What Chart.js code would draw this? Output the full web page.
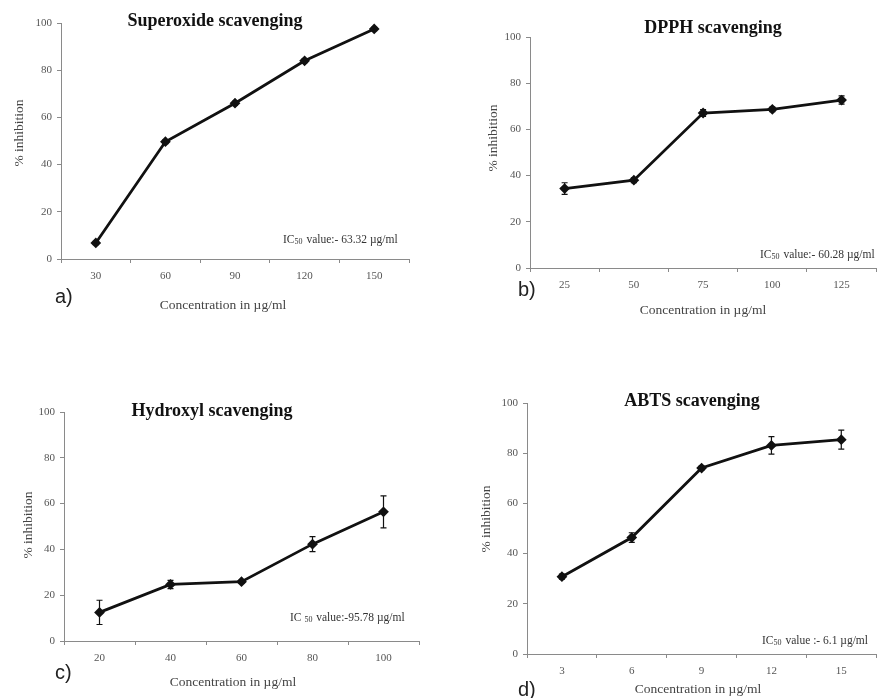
<!DOCTYPE html>
<html lang="en">
<head>
<meta charset="UTF-8">
<title>Scavenging activity</title>
<script src="https://cdn.jsdelivr.net/npm/chart.js"></script>
<style>
  html, body { margin: 0; padding: 0; background: #fff; overflow: hidden; }
  .panel { position: absolute; left: 0; top: 0; }
</style>
</head>
<body>
<canvas class="panel" id="chartA" width="883" height="698"></canvas>
<canvas class="panel" id="chartB" width="883" height="698"></canvas>
<canvas class="panel" id="chartC" width="883" height="698"></canvas>
<canvas class="panel" id="chartD" width="883" height="698"></canvas>
<script>
// data
const superoxideConc = ['30', '60', '90', '120', '150'];
const superoxideVals = [6.8, 49.7, 66.0, 84.0, 97.5];
const superoxideErr = [0.7, 0.8, 0.8, 0.8, 0.7];

const dpphConc = ['25', '50', '75', '100', '125'];
const dpphVals = [34.4, 38.0, 67.1, 68.7, 72.7];
const dpphErr = [2.5, 1.0, 1.5, 1.0, 1.8];

const hydroxylConc = ['20', '40', '60', '80', '100'];
const hydroxylVals = [12.5, 24.7, 25.9, 42.3, 56.4];
const hydroxylErr = [5.3, 1.8, 0.6, 3.3, 7.0];

const abtsConc = ['3', '6', '9', '12', '15'];
const abtsVals = [30.8, 46.4, 74.1, 83.1, 85.4];
const abtsErr = [1.0, 1.9, 0.8, 3.5, 3.8];

const yTicks = [0, 20, 40, 60, 80, 100];

const serif = '"Liberation Serif", "Times New Roman", serif';
const sans = '"Liberation Sans", Arial, sans-serif';
const W = 883, H = 698;
const Y_W = 40, X_H = 30;

function makePanel(id, labels, values, errors, area, txt) {
    // vertical error bars, positioned with the y scale
    const errorBars = {
        id: 'errorBars',
        afterDatasetsDraw(chart) {
            const ys = chart.scales.y;
            const ctx = chart.ctx;
            ctx.save();
            ctx.strokeStyle = '#111';
            ctx.lineWidth = 1.2;
            chart.getDatasetMeta(0).data.forEach((pt, i) => {
                const top = ys.getPixelForValue(values[i] + errors[i]);
                const bot = ys.getPixelForValue(values[i] - errors[i]);
                ctx.beginPath();
                ctx.moveTo(pt.x, top); ctx.lineTo(pt.x, bot);
                ctx.moveTo(pt.x - 3, top); ctx.lineTo(pt.x + 3, top);
                ctx.moveTo(pt.x - 3, bot); ctx.lineTo(pt.x + 3, bot);
                ctx.stroke();
            });
            ctx.restore();
        }
    };

    // titles, axis names, panel letter and IC50 note
    const annotations = {
        id: 'annotations',
        afterDraw(chart) {
            const ctx = chart.ctx;
            ctx.save();
            ctx.textBaseline = 'middle';

            ctx.fillStyle = '#111';
            ctx.textAlign = 'center';
            ctx.font = 'bold 18px ' + serif;
            ctx.fillText(txt.title, txt.titleX, txt.titleY);

            ctx.fillStyle = '#444';
            ctx.font = '13.5px ' + serif;
            ctx.fillText('Concentration in \u00b5g/ml', txt.xLabelX, txt.xLabelY);

            ctx.save();
            ctx.translate(txt.yLabelX, txt.yLabelY);
            ctx.rotate(-Math.PI / 2);
            ctx.fillText('% inhibition', 0, 0);
            ctx.restore();

            ctx.fillStyle = '#222';
            ctx.textAlign = 'left';
            ctx.font = '20px ' + sans;
            ctx.fillText(txt.letter, txt.letterX, txt.letterY);

            // IC50 with subscript
            ctx.fillStyle = '#333';
            let x = txt.icX;
            ctx.font = '11.5px ' + serif;
            ctx.fillText(txt.icPre, x, txt.icY);
            x += ctx.measureText(txt.icPre).width;
            ctx.font = '8px ' + serif;
            ctx.fillText('50', x, txt.icY + 2);
            x += ctx.measureText('50').width + 1;
            ctx.font = '11.5px ' + serif;
            ctx.fillText(txt.icPost, x, txt.icY);
            ctx.restore();
        }
    };

    const axisColor = '#8a8a8a';
    const tickFont = { family: serif, size: 11 };

    return new Chart(document.getElementById(id), {
        type: 'line',
        data: {
            labels: labels,
            datasets: [{
                data: values,
                borderColor: '#111',
                backgroundColor: '#111',
                borderWidth: 2.8,
                pointStyle: 'rectRot',
                pointRadius: 3.4,
                tension: 0
            }]
        },
        options: {
            responsive: false,
            animation: false,
            layout: {
                padding: {
                    left: area.left - Y_W,
                    top: area.top,
                    right: W - area.right,
                    bottom: H - area.bottom - X_H
                }
            },
            plugins: {
                legend: { display: false },
                tooltip: { enabled: false }
            },
            scales: {
                x: {
                    type: 'category',
                    offset: true,
                    grid: { drawOnChartArea: false, drawTicks: true, tickLength: 4, offset: true, color: axisColor },
                    border: { color: axisColor, width: 1 },
                    ticks: { color: '#555', font: tickFont, padding: 7, maxRotation: 0 },
                    afterFit(s) { s.height = X_H; }
                },
                y: {
                    min: 0,
                    max: 100,
                    grid: { drawOnChartArea: false, drawTicks: true, tickLength: 4, color: axisColor },
                    border: { color: axisColor, width: 1 },
                    ticks: { color: '#555', font: tickFont, padding: 5 },
                    afterBuildTicks(s) { s.ticks = yTicks.map(v => ({ value: v })); },
                    afterFit(s) { s.width = Y_W; }
                }
            }
        },
        plugins: [errorBars, annotations]
    });
}

makePanel('chartA', superoxideConc, superoxideVals, superoxideErr,
    { left: 61, top: 23, right: 409, bottom: 259 },
    { title: 'Superoxide scavenging', titleX: 215, titleY: 21,
      xLabelX: 223, xLabelY: 305, yLabelX: 19, yLabelY: 133,
      letter: 'a)', letterX: 55, letterY: 297,
      icPre: 'IC', icPost: ' value:- 63.32 \u00b5g/ml', icX: 283, icY: 240 });

makePanel('chartB', dpphConc, dpphVals, dpphErr,
    { left: 530, top: 37, right: 883, bottom: 268 },
    { title: 'DPPH scavenging', titleX: 713, titleY: 28,
      xLabelX: 703, xLabelY: 310, yLabelX: 493, yLabelY: 138,
      letter: 'b)', letterX: 518, letterY: 290,
      icPre: 'IC', icPost: ' value:- 60.28 \u00b5g/ml', icX: 760, icY: 255 });

makePanel('chartC', hydroxylConc, hydroxylVals, hydroxylErr,
    { left: 64, top: 412, right: 419, bottom: 641 },
    { title: 'Hydroxyl scavenging', titleX: 212, titleY: 411,
      xLabelX: 233, xLabelY: 682, yLabelX: 28, yLabelY: 525,
      letter: 'c)', letterX: 55, letterY: 673,
      icPre: 'IC ', icPost: ' value:-95.78 \u00b5g/ml', icX: 290, icY: 618 });

makePanel('chartD', abtsConc, abtsVals, abtsErr,
    { left: 527, top: 403, right: 882, bottom: 654 },
    { title: 'ABTS scavenging', titleX: 692, titleY: 401,
      xLabelX: 698, xLabelY: 689, yLabelX: 486, yLabelY: 519,
      letter: 'd)', letterX: 518, letterY: 690,
      icPre: 'IC', icPost: ' value :- 6.1 \u00b5g/ml', icX: 762, icY: 641 });
</script>
</body>
</html>
